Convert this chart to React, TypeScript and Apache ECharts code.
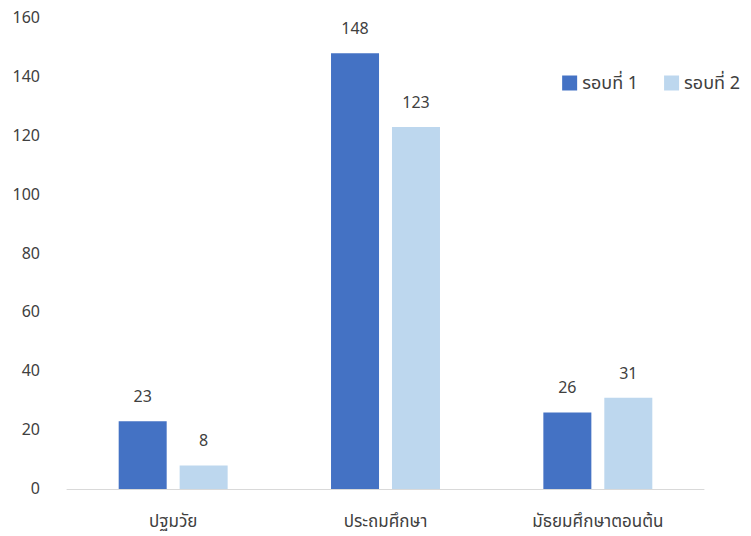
import React, { useEffect, useRef } from "react";
import * as echarts from "echarts";

const categories = ["ปฐมวัย", "ประถมศึกษา", "มัธยมศึกษาตอนต้น"];
const round1 = [23, 148, 26];
const round2 = [8, 123, 31];
const seriesNames = ["รอบที่ 1", "รอบที่ 2"];

const FONT = "'Noto Sans Thai', 'Tahoma', 'DejaVu Sans', 'Noto Sans', sans-serif";

export default function App() {
  const ref = useRef<HTMLDivElement>(null);
  useEffect(() => {
    if (!ref.current) return;
    const chart = echarts.init(ref.current, null, { renderer: "svg" });
    chart.setOption({
      animation: false,
      textStyle: { fontFamily: FONT },
      grid: { left: 67, right: 47, top: 18, bottom: 47 },
      legend: {
        right: 6,
        top: 69,
        itemWidth: 15,
        itemHeight: 15,
        itemGap: 26,
        icon: "rect",
        textStyle: { fontSize: 18, color: "#404040", fontFamily: FONT },
        data: seriesNames,
      },
      xAxis: {
        type: "category",
        data: categories,
        axisLine: { lineStyle: { color: "#D9D9D9", width: 1 } },
        axisTick: { show: false },
        axisLabel: { fontSize: 17, color: "#404040", margin: 24, fontFamily: FONT },
      },
      yAxis: {
        type: "value",
        min: 0,
        max: 160,
        interval: 20,
        splitLine: { show: false },
        axisLine: { show: false },
        axisTick: { show: false },
        axisLabel: { fontSize: 16, color: "#404040", margin: 27, fontFamily: FONT },
      },
      series: [
        {
          name: seriesNames[0],
          type: "bar",
          data: round1,
          barWidth: 48,
          barGap: "27%",
          itemStyle: { color: "#4472C4" },
          label: { show: true, position: "top", distance: 16, fontSize: 16, color: "#404040", fontFamily: FONT },
        },
        {
          name: seriesNames[1],
          type: "bar",
          data: round2,
          barWidth: 48,
          barGap: "27%",
          itemStyle: { color: "#BDD7EE" },
          label: { show: true, position: "top", distance: 16, fontSize: 16, color: "#404040", fontFamily: FONT },
        },
      ],
    });
    return () => chart.dispose();
  }, []);
  return <div ref={ref} style={{ width: 751, height: 536, position: "absolute", left: 0, top: 0 }} />;
}
